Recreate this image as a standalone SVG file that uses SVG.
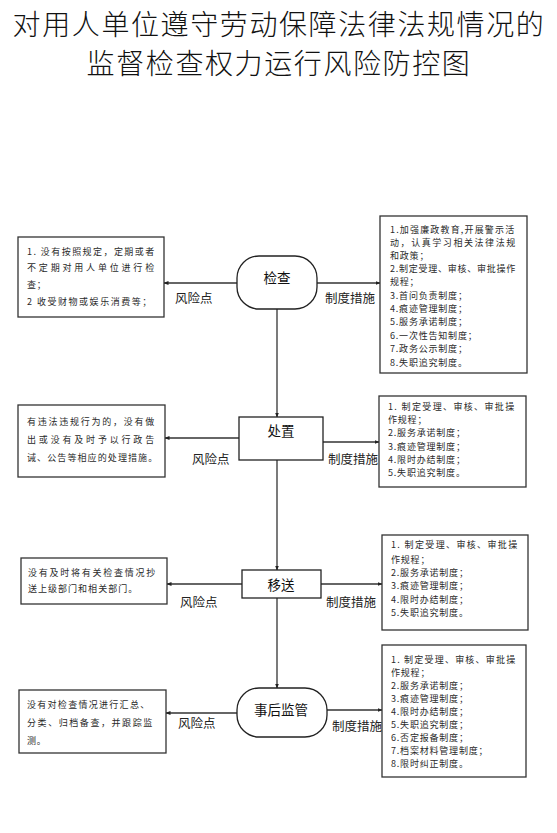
<svg xmlns="http://www.w3.org/2000/svg" width="557" height="833" viewBox="0 0 557 833">
<style>
.title{font-family:"Noto Sans CJK SC","Noto Sans",sans-serif;font-size:28px;font-weight:300;fill:#111;letter-spacing:1.6px}
.node{fill:#fff;stroke:#222;stroke-width:1.3}
.nl{font-family:"Noto Sans CJK SC","Noto Sans",sans-serif;font-size:13.5px;fill:#111;text-anchor:middle}
.lab{font-family:"Noto Sans CJK SC","Noto Sans",sans-serif;font-size:12.5px;fill:#222}
.box{fill:#fff;stroke:#333;stroke-width:1.3}
.t{font-family:"Noto Sans CJK SC","Noto Sans",sans-serif;font-size:9px;fill:#2a2a2a;letter-spacing:0.8px}
.ln{stroke:#333;stroke-width:1.3;fill:none;marker-end:url(#ah)}
</style>
<defs>
<marker id="ah" viewBox="0 0 10 10" refX="9" refY="5" markerWidth="5" markerHeight="5" orient="auto" markerUnits="userSpaceOnUse">
<path d="M0,1 L10,5 L0,9 z" fill="#222"/>
</marker>
</defs>
<rect width="557" height="833" fill="#fff"/>
<g id="title">
<text class="title" x="279" y="35" text-anchor="middle">对用人单位遵守劳动保障法律法规情况的</text>
<text class="title" x="279" y="74" text-anchor="middle">监督检查权力运行风险防控图</text>
</g>
<g id="connectors">
<line class="ln" x1="277" y1="309" x2="277" y2="417"/>
<line class="ln" x1="277" y1="460" x2="277" y2="570"/>
<line class="ln" x1="277" y1="598" x2="277" y2="688"/>
<line class="ln" x1="237" y1="283" x2="164" y2="283"/>
<line class="ln" x1="317" y1="283" x2="380" y2="283"/>
<line class="ln" x1="239" y1="438" x2="165" y2="438"/>
<line class="ln" x1="323" y1="442" x2="379" y2="442"/>
<line class="ln" x1="242" y1="584" x2="167" y2="584"/>
<line class="ln" x1="321" y1="584" x2="382" y2="584"/>
<line class="ln" x1="237" y1="713" x2="166" y2="713"/>
<line class="ln" x1="327" y1="710" x2="382" y2="710"/>
<text class="lab" x="175" y="303">风险点</text>
<text class="lab" x="325" y="303">制度措施</text>
<text class="lab" x="192" y="464">风险点</text>
<text class="lab" x="328" y="464">制度措施</text>
<text class="lab" x="180" y="607">风险点</text>
<text class="lab" x="326" y="607">制度措施</text>
<text class="lab" x="178" y="728">风险点</text>
<text class="lab" x="332" y="731">制度措施</text>
</g>
<g id="n-jiancha">
<rect class="node" x="237" y="256" width="80" height="53" rx="22" ry="22"/>
<text class="nl" x="277" y="283">检查</text>
</g>
<g id="n-chuzhi">
<rect class="node" x="239" y="417" width="84" height="43"/>
<text class="nl" x="281" y="436">处置</text>
</g>
<g id="n-yisong">
<rect class="node" x="242" y="570" width="79" height="28"/>
<text class="nl" x="281" y="590">移送</text>
</g>
<g id="n-shihou">
<rect class="node" x="237" y="688" width="90" height="49" rx="22" ry="22"/>
<text class="nl" x="281" y="715">事后监管</text>
</g>
<g id="risk1">
<rect class="box" x="18" y="237" width="146" height="80"/>
<text class="t" x="27" y="255" textLength="128" lengthAdjust="spacing">1. 没有按照规定，定期或者</text>
<text class="t" x="27" y="271" textLength="128" lengthAdjust="spacing">不定期对用人单位进行检</text>
<text class="t" x="27" y="288">查；</text>
<text class="t" x="27" y="305" textLength="125" lengthAdjust="spacing">2 收受财物或娱乐消费等；</text>
</g>
<g id="risk2">
<rect class="box" x="18" y="405" width="147" height="72"/>
<text class="t" x="27" y="425" textLength="128" lengthAdjust="spacing">有违法违规行为的，没有做</text>
<text class="t" x="27" y="443" textLength="128" lengthAdjust="spacing">出或没有及时予以行政告</text>
<text class="t" x="27" y="461" textLength="131" lengthAdjust="spacing">诫、公告等相应的处理措施。</text>
</g>
<g id="risk3">
<rect class="box" x="21" y="558" width="146" height="46"/>
<text class="t" x="28" y="576" textLength="128" lengthAdjust="spacing">没有及时将有关检查情况抄</text>
<text class="t" x="28" y="592" textLength="110" lengthAdjust="spacing">送上级部门和相关部门。</text>
</g>
<g id="risk4">
<rect class="box" x="19" y="690" width="147" height="63"/>
<text class="t" x="27" y="708" textLength="123" lengthAdjust="spacing">没有对检查情况进行汇总、</text>
<text class="t" x="27" y="726" textLength="126" lengthAdjust="spacing">分类、归档备查，并跟踪监</text>
<text class="t" x="27" y="744">测。</text>
</g>
<g id="measure1">
<rect class="box" x="380" y="216" width="147" height="157"/>
<text class="t" x="390" y="233" textLength="125" lengthAdjust="spacing">1.加强廉政教育,开展警示活</text>
<text class="t" x="390" y="246" textLength="126" lengthAdjust="spacing">动，认真学习相关法律法规</text>
<text class="t" x="390" y="259">和政策；</text>
<text class="t" x="390" y="272" textLength="126" lengthAdjust="spacing">2.制定受理、审核、审批操作</text>
<text class="t" x="390" y="285">规程；</text>
<text class="t" x="390" y="299">3.首问负责制度；</text>
<text class="t" x="390" y="312">4.痕迹管理制度；</text>
<text class="t" x="390" y="325">5.服务承诺制度；</text>
<text class="t" x="390" y="339">6.一次性告知制度；</text>
<text class="t" x="390" y="352">7.政务公示制度；</text>
<text class="t" x="390" y="366">8.失职追究制度。</text>
</g>
<g id="measure2">
<rect class="box" x="379" y="396" width="147" height="91"/>
<text class="t" x="388" y="410" textLength="127" lengthAdjust="spacing">1. 制定受理、审核、审批操</text>
<text class="t" x="388" y="423">作规程；</text>
<text class="t" x="388" y="436">2.服务承诺制度；</text>
<text class="t" x="388" y="450">3.痕迹管理制度；</text>
<text class="t" x="388" y="463">4.限时办结制度；</text>
<text class="t" x="388" y="476">5.失职追究制度。</text>
</g>
<g id="measure3">
<rect class="box" x="382" y="535" width="146" height="95"/>
<text class="t" x="391" y="548" textLength="127" lengthAdjust="spacing">1. 制定受理、审核、审批操</text>
<text class="t" x="391" y="563">作规程；</text>
<text class="t" x="391" y="576">2.服务承诺制度；</text>
<text class="t" x="391" y="589">3.痕迹管理制度；</text>
<text class="t" x="391" y="603">4.限时办结制度；</text>
<text class="t" x="391" y="616">5.失职追究制度。</text>
</g>
<g id="measure4">
<rect class="box" x="382" y="645" width="144" height="132"/>
<text class="t" x="391" y="663" textLength="125" lengthAdjust="spacing">1. 制定受理、审核、审批操</text>
<text class="t" x="391" y="676">作规程；</text>
<text class="t" x="391" y="689">2.服务承诺制度；</text>
<text class="t" x="391" y="702">3.痕迹管理制度；</text>
<text class="t" x="391" y="715">4.限时办结制度；</text>
<text class="t" x="391" y="728">5.失职追究制度；</text>
<text class="t" x="391" y="741">6.否定报备制度；</text>
<text class="t" x="391" y="754">7.档案材料管理制度；</text>
<text class="t" x="391" y="767">8.限时纠正制度。</text>
</g>
</svg>
